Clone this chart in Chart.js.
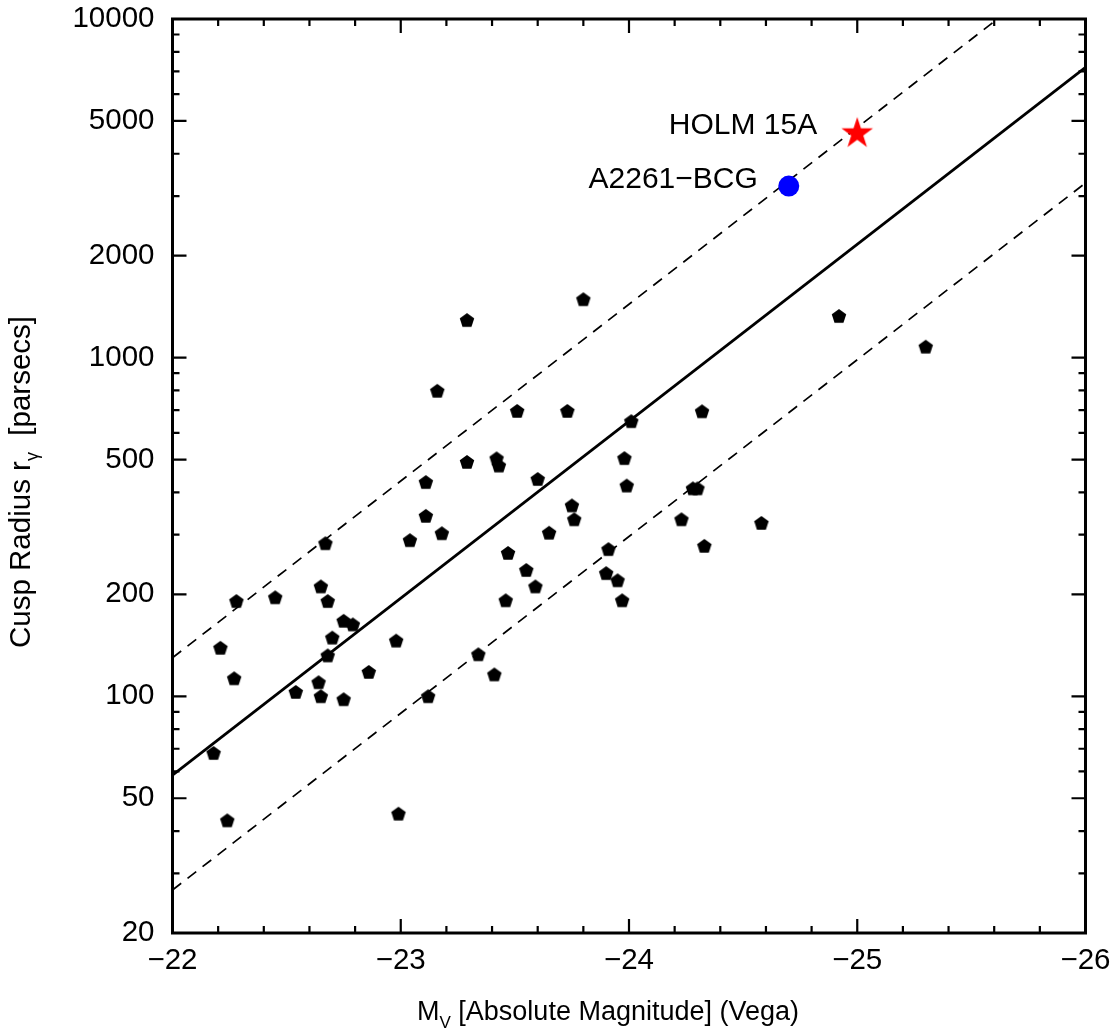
<!DOCTYPE html>
<html><head><meta charset="utf-8">
<script src="https://cdn.jsdelivr.net/npm/chart.js@4.4.1/dist/chart.umd.min.js"></script>
<style>html,body{margin:0;padding:0;background:#fff;} #wrap{width:1117px;height:1030px;position:relative;}</style>
</head><body><div id="wrap"><canvas id="c" width="1117" height="1030"></canvas></div>
<script>
// ---- data ----
const galaxyMag = [-22.18,-22.21,-22.24,-22.27,-22.28,-22.45,-22.54,-22.64,-22.65,-22.65,-22.67,-22.68,-22.68,-22.70,-22.75,-22.75,-22.79,-22.86,-22.98,-22.99,-23.04,-23.11,-23.11,-23.12,-23.16,-23.18,-23.29,-23.29,-23.34,-23.41,-23.42,-23.43,-23.46,-23.47,-23.51,-23.55,-23.59,-23.60,-23.65,-23.73,-23.75,-23.76,-23.80,-23.91,-23.90,-23.95,-23.97,-23.98,-23.99,-24.01,-24.23,-24.28,-24.30,-24.32,-24.33,-24.58,-24.92,-25.30];
const galaxyCusp = [68,139,43,113,191,196,103,110,211,100,283,132,191,149,167,98,163,118,146,45,289,341,429,100,798,303,1291,492,133,116,504,480,192,265,696,236,211,438,304,696,366,333,1487,272,231,220,192,505,419,649,333,411,411,694,278,325,1327,1077];
const a2261Mag = [-24.70];
const a2261Cusp = [3210];
const holmMag = [-25.00];
const holmCusp = [4590];
const fitMag = [-22, -26];
const fitCusp = [58.5, 7200];
const upperCusp = [130, 15900];
const lowerCusp = [26.8, 3280];
const xMajorTicks = [-22, -23, -24, -25, -26];
const xMinorTicks = [-22.2,-22.4,-22.6,-22.8,-23.2,-23.4,-23.6,-23.8,-24.2,-24.4,-24.6,-24.8,-25.2,-25.4,-25.6,-25.8];
const yMajorTicks = [20, 50, 100, 200, 500, 1000, 2000, 5000, 10000];
const yMinorTicks = [30,40,60,70,80,90,300,400,600,700,800,900,3000,4000,6000,7000,8000,9000];
const xTitleMain = 'M', xTitleSub = 'V', xTitleRest = ' [Absolute Magnitude] (Vega)';
const yTitleMain = 'Cusp Radius r', yTitleSub = '\u03B3', yTitleRest = '  [parsecs]';
const labelA2261 = 'A2261\u2212BCG';
const labelHolm = 'HOLM 15A';

const FONT = '"Liberation Sans", Arial, Helvetica, sans-serif';

function makePentagon(r) {
  const s = Math.ceil(r * 2 + 2);
  const c = document.createElement('canvas'); c.width = s; c.height = s;
  const g = c.getContext('2d');
  g.fillStyle = '#000'; g.beginPath();
  for (let i = 0; i < 5; i++) {
    const a = -Math.PI / 2 + i * 2 * Math.PI / 5;
    const px = s / 2 + r * Math.cos(a), py = s / 2 + 0.6 + r * Math.sin(a);
    i ? g.lineTo(px, py) : g.moveTo(px, py);
  }
  g.closePath(); g.fill();
  return c;
}
function makeStar(R, color) {
  const s = Math.ceil(R * 2 + 2);
  const c = document.createElement('canvas'); c.width = s; c.height = s;
  const g = c.getContext('2d');
  g.fillStyle = color; g.beginPath();
  const rIn = R * 0.382;
  for (let i = 0; i < 10; i++) {
    const rr = i % 2 ? rIn : R;
    const a = -Math.PI / 2 + i * Math.PI / 5;
    const px = s / 2 + rr * Math.cos(a), py = s / 2 + rr * Math.sin(a);
    i ? g.lineTo(px, py) : g.moveTo(px, py);
  }
  g.closePath(); g.fill();
  return c;
}
const pent = makePentagon(7.6);
const star = makeStar(16.6, '#ff0000');

const zip = (xs, ys) => xs.map((v, i) => ({x: v, y: ys[i]}));

const decor = {
  id: 'decor',
  afterDraw(chart) {
    const {ctx, chartArea: a, scales: {x, y}} = chart;
    ctx.save();
    ctx.strokeStyle = '#000';
    ctx.lineWidth = 2.2;
    ctx.beginPath();
    const tick = (list, len, horiz) => {
      list.forEach(v => {
        if (horiz) {
          const p = x.getPixelForValue(v);
          ctx.moveTo(p, a.bottom); ctx.lineTo(p, a.bottom - len);
          ctx.moveTo(p, a.top); ctx.lineTo(p, a.top + len);
        } else {
          const p = y.getPixelForValue(v);
          ctx.moveTo(a.left, p); ctx.lineTo(a.left + len, p);
          ctx.moveTo(a.right, p); ctx.lineTo(a.right - len, p);
        }
      });
    };
    tick(xMajorTicks, 14, true); tick(xMinorTicks, 7, true);
    tick(yMajorTicks, 14, false); tick(yMinorTicks, 7, false);
    ctx.stroke();
    ctx.lineWidth = 3;
    ctx.strokeRect(a.left, a.top, a.right - a.left, a.bottom - a.top);

    ctx.fillStyle = '#000';
    ctx.textBaseline = 'alphabetic';
    ctx.textAlign = 'left';
    // x title
    const mainF = '27px ' + FONT, subF = '17px ' + FONT;
    let tx = 417, ty = 1019.5;
    ctx.font = mainF; ctx.fillText(xTitleMain, tx, ty); tx += ctx.measureText(xTitleMain).width;
    ctx.font = subF; ctx.fillText(xTitleSub, tx, ty + 8.5); tx += ctx.measureText(xTitleSub).width;
    ctx.font = mainF; ctx.fillText(xTitleRest, tx, ty);
    // y title
    ctx.save();
    ctx.translate(30, 648);
    ctx.rotate(-Math.PI / 2);
    let ux = 0;
    ctx.font = '29.5px ' + FONT; ctx.fillText(yTitleMain, ux, 0); ux += ctx.measureText(yTitleMain).width;
    ctx.font = '18px ' + FONT; ctx.fillText(yTitleSub, ux, 8); ux += ctx.measureText(yTitleSub).width;
    ctx.font = '29.5px ' + FONT; ctx.fillText(yTitleRest, ux, 0);
    ctx.restore();
    // annotations
    ctx.font = '30px ' + FONT;
    ctx.textAlign = 'right';
    const hx = x.getPixelForValue(holmMag[0]), hy = y.getPixelForValue(holmCusp[0]);
    ctx.fillText(labelHolm, hx - 40, hy + 0.5);
    const bx = x.getPixelForValue(a2261Mag[0]), by = y.getPixelForValue(a2261Cusp[0]);
    ctx.fillText(labelA2261, bx - 31, by + 1.5);
    ctx.restore();
  }
};

new Chart(document.getElementById('c'), {
  type: 'scatter',
  data: {
    datasets: [
      {data: zip(holmMag, holmCusp), pointStyle: star, pointRadius: 16},
      {data: zip(a2261Mag, a2261Cusp), pointStyle: 'circle', pointRadius: 10.5, backgroundColor: '#0000ff', borderWidth: 0},
      {data: zip(galaxyMag, galaxyCusp), pointStyle: pent, pointRadius: 7.5},
      {data: zip(fitMag, fitCusp), showLine: true, pointRadius: 0, borderColor: '#000', borderWidth: 2.8},
      {data: zip(fitMag, upperCusp), showLine: true, pointRadius: 0, borderColor: '#000', borderWidth: 1.7, borderDash: [11, 8]},
      {data: zip(fitMag, lowerCusp), showLine: true, pointRadius: 0, borderColor: '#000', borderWidth: 1.7, borderDash: [11, 8]}
    ]
  },
  options: {
    responsive: false,
    animation: false,
    devicePixelRatio: 1,
    layout: {padding: {left: 0, right: 31.5, top: 19, bottom: 0}},
    plugins: {legend: {display: false}, tooltip: {enabled: false}},
    scales: {
      x: {
        type: 'linear', reverse: true, min: -26, max: -22,
        grid: {display: false}, border: {display: false},
        afterBuildTicks: s => { s.ticks = xMajorTicks.map(v => ({value: v})); },
        afterFit: s => { s.height = 97; s.paddingLeft = 0; s.paddingRight = 0; },
        ticks: {autoSkip: false, maxRotation: 0, padding: 2, color: '#000',
          font: {size: 29.5, family: FONT},
          callback: v => (v < 0 ? '\u2212' : '') + Math.abs(v)}
      },
      y: {
        type: 'logarithmic', min: 20, max: 10000,
        grid: {display: false}, border: {display: false},
        afterBuildTicks: s => { s.ticks = yMajorTicks.map(v => ({value: v})); },
        afterFit: s => { s.width = 172.5; s.paddingTop = 0; s.paddingBottom = 0; },
        ticks: {autoSkip: false, padding: 10, color: '#000',
          font: {size: 29.5, family: FONT},
          callback: v => String(v)}
      }
    }
  },
  plugins: [decor]
});
</script>
</body></html>
